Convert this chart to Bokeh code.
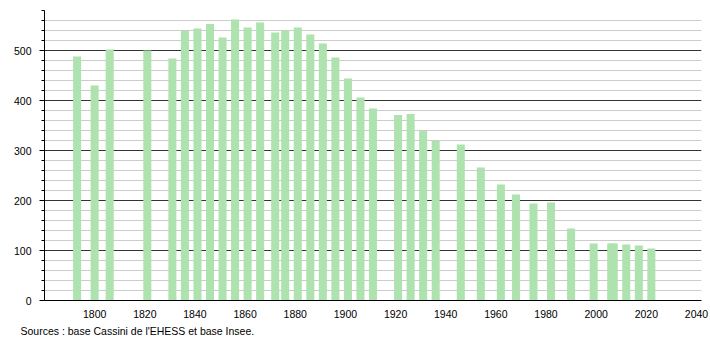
from bokeh.plotting import figure
from bokeh.models import Range1d, SingleIntervalTicker, FixedTicker, Title, ColumnDataSource
from bokeh.embed import file_html
from bokeh.resources import INLINE

years = [1793, 1800, 1806, 1821, 1831, 1836, 1841, 1846, 1851, 1856, 1861, 1866,
         1872, 1876, 1881, 1886, 1891, 1896, 1901, 1906, 1911, 1921, 1926, 1931,
         1936, 1946, 1954, 1962, 1968, 1975, 1982, 1990, 1999, 2006, 2007, 2012,
         2017, 2022]
population = [488, 430, 502, 500, 484, 539, 544, 553, 526, 562, 546, 556,
              536, 540, 546, 532, 514, 486, 444, 406, 384, 371, 373, 339,
              319, 312, 266, 232, 212, 194, 196, 144, 114, 114, 114, 112,
              110, 104]
x_ticks = [1800, 1820, 1840, 1860, 1880, 1900, 1920, 1940, 1960, 1980, 2000, 2020, 2040]
source_text = "Sources : base Cassini de l'EHESS et base Insee."

FONT = "Liberation Sans"

src = ColumnDataSource(data=dict(year=years, pop=population))

p = figure(width=710, height=340, output_backend="svg", toolbar_location=None,
           x_range=Range1d(1780, 2042), y_range=Range1d(0, 580),
           min_border_left=44, min_border_right=9, min_border_top=10,
           min_border_bottom=40, tools="")
p.outline_line_color = None
p.background_fill_color = "white"
p.border_fill_color = "white"

p.vbar(x="year", top="pop", width=3.2, bottom=0, source=src,
       fill_color="#aee2ae", line_color=None)

# y axis
yt = SingleIntervalTicker(interval=100, num_minor_ticks=5)
p.yaxis.ticker = yt
p.yaxis.axis_line_color = "black"
p.yaxis.major_tick_line_color = "black"
p.yaxis.minor_tick_line_color = "black"
p.yaxis.major_tick_out = 5
p.yaxis.major_tick_in = 0
p.yaxis.minor_tick_out = 3
p.yaxis.minor_tick_in = 0
p.yaxis.major_label_standoff = 8
p.yaxis.major_label_text_font = FONT
p.yaxis.major_label_text_font_size = "10.5px"
p.yaxis.major_label_text_color = "black"

# x axis
p.xaxis.ticker = FixedTicker(ticks=x_ticks)
p.xaxis.axis_line_color = "black"
p.xaxis.major_tick_line_color = None
p.xaxis.minor_tick_line_color = None
p.xaxis.major_label_standoff = 3
p.xaxis.major_label_text_font = FONT
p.xaxis.major_label_text_font_size = "10.5px"
p.xaxis.major_label_text_color = "black"

# grids
p.xgrid.visible = False
p.ygrid.ticker = yt
p.ygrid.grid_line_color = "#333333"
p.ygrid.grid_line_width = 1
p.ygrid.minor_grid_line_color = "#cccccc"
p.ygrid.minor_grid_line_width = 1

note = Title(text=source_text, align="left", offset=-24, standoff=4,
             text_font=FONT, text_font_size="10.5px", text_font_style="normal",
             text_color="black")
p.add_layout(note, "below")

open("out.html", "w").write(file_html(p, INLINE))
